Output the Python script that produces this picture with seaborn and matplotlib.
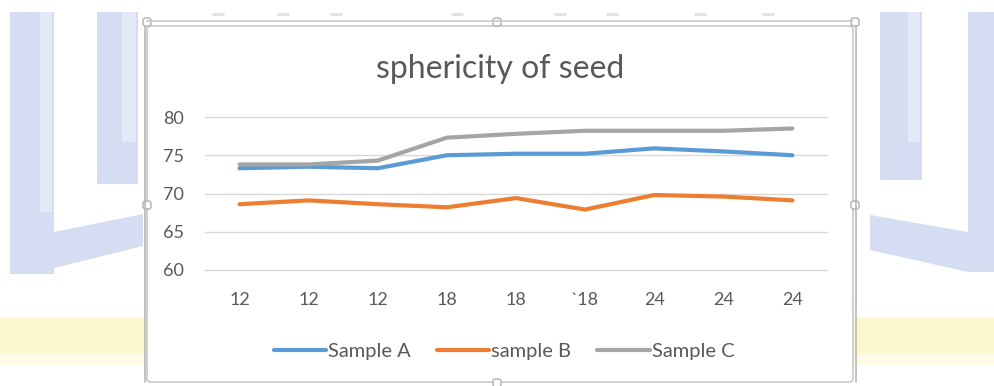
import matplotlib
matplotlib.use("Agg")
import matplotlib.pyplot as plt
import matplotlib.patches as mpatches
import seaborn as sns
import pandas as pd

# Sphericity measurements per seed moisture group
categories = ["12", "12", "12", "18", "18", "`18", "24", "24", "24"]
sample_a = [73.3, 73.5, 73.3, 75.0, 75.2, 75.2, 75.9, 75.5, 75.0]
sample_b = [68.6, 69.1, 68.6, 68.2, 69.4, 67.9, 69.8, 69.6, 69.1]
sample_c = [73.8, 73.8, 74.3, 77.3, 77.8, 78.2, 78.2, 78.2, 78.5]
series_names = ["Sample A", "sample B", "Sample C"]
y_ticks = [60, 65, 70, 75, 80]

colors = ["#5B9BD5", "#ED7D31", "#A5A5A5"]
text_color = "#595959"

sns.set_theme(style="white")
plt.rcParams["font.family"] = ["Lato", "DejaVu Sans"]

W, H = 995, 386
fig = plt.figure(figsize=(W / 100, H / 100), dpi=100)
fig.patch.set_facecolor("white")

# Decorative page background behind the chart object
bg = fig.add_axes([0, 0, 1, 1], zorder=-5)
bg.set_xlim(0, W)
bg.set_ylim(H, 0)
bg.axis("off")
blue = "#d4ddf2"
blue_light = "#e3e9f7"
bg.add_patch(mpatches.Rectangle((0, 317), W, 36, color="#fdf7d0", lw=0))
bg.add_patch(mpatches.Rectangle((0, 353), W, 12, color="#fefbe6", lw=0))
for x0, y0, w, h in [(10, 12, 44, 262), (97, 12, 41, 172), (880, 12, 42, 168), (968, 12, 27, 260)]:
    bg.add_patch(mpatches.Rectangle((x0, y0), w, h, color=blue, lw=0))
for x0, y0, w, h in [(40, 12, 12, 200), (122, 12, 14, 130), (908, 12, 12, 130)]:
    bg.add_patch(mpatches.Rectangle((x0, y0), w, h, color=blue_light, lw=0))
bg.add_patch(mpatches.Polygon([(54, 232), (143, 214), (143, 246), (30, 274)], color=blue, lw=0))
bg.add_patch(mpatches.Polygon([(870, 215), (968, 232), (968, 272), (870, 250)], color=blue, lw=0))
for xd in [218, 283, 336, 457, 560, 612, 700, 768]:
    bg.plot([xd - 6, xd + 6], [14, 14], color="#e0e0e0", lw=2.0, solid_capstyle="butt")

# Chart frame with selection handles
bg.add_patch(mpatches.FancyBboxPatch((147, 26), 706, 356, boxstyle="round,pad=0,rounding_size=4",
                                     facecolor="white", edgecolor="#c8c8c8", lw=1.2))
bg.plot([145, 145], [26, 382], color="#b8b8b8", lw=1.2)
bg.plot([147, 853], [21, 21], color="#c8c8c8", lw=1.2)
bg.plot([856, 856], [26, 382], color="#b8b8b8", lw=1.2)
for hx, hy in [(497, 22), (147, 205), (855, 205), (497, 383), (147, 22), (855, 22)]:
    bg.add_patch(mpatches.FancyBboxPatch((hx - 4, hy - 4), 8, 8, boxstyle="round,pad=0,rounding_size=2.5",
                                         facecolor="white", edgecolor="#b0b0b0", lw=1))

# Line chart
ax = fig.add_axes([205 / W, 1 - 270 / H, 622 / W, 153 / H])
ax.set_facecolor("none")
df = pd.DataFrame({
    "pos": list(range(len(categories))) * 3,
    "value": sample_a + sample_b + sample_c,
    "series": [s for s in series_names for _ in categories],
})
sns.lineplot(data=df, x="pos", y="value", hue="series", hue_order=series_names,
             palette=colors, linewidth=3.0, ax=ax, legend=False, sort=False,
             estimator=None)

ax.set_xlim(-0.5, len(categories) - 0.5)
ax.set_ylim(60, 80)
ax.set_yticks(y_ticks)
ax.set_xticks(range(len(categories)))
ax.set_xticklabels(categories)
ax.set_xlabel("")
ax.set_ylabel("")
ax.grid(axis="y", color="#d9d9d9", lw=1.0)
ax.grid(axis="x", visible=False)
for gl in ax.get_ygridlines():
    gl.set_clip_on(False)
ax.set_axisbelow(True)
for s in ax.spines.values():
    s.set_visible(False)
ax.tick_params(axis="both", length=0, labelsize=13, labelcolor=text_color)
ax.tick_params(axis="y", pad=15)
ax.tick_params(axis="x", pad=16)

fig.text(500 / W, 1 - 69 / H, "sphericity of seed", ha="center", va="center",
         fontsize=23, color=text_color)

handles = [plt.Line2D([], [], color=c, lw=3.0) for c in colors]
fig.legend(handles, series_names, loc="center", bbox_to_anchor=(504 / W, 1 - 351 / H),
           ncol=3, frameon=False, fontsize=14.5, handlelength=2.6, handletextpad=0.1,
           columnspacing=1.3, labelcolor=text_color)

fig.savefig("out.png", dpi=100, facecolor="white")
